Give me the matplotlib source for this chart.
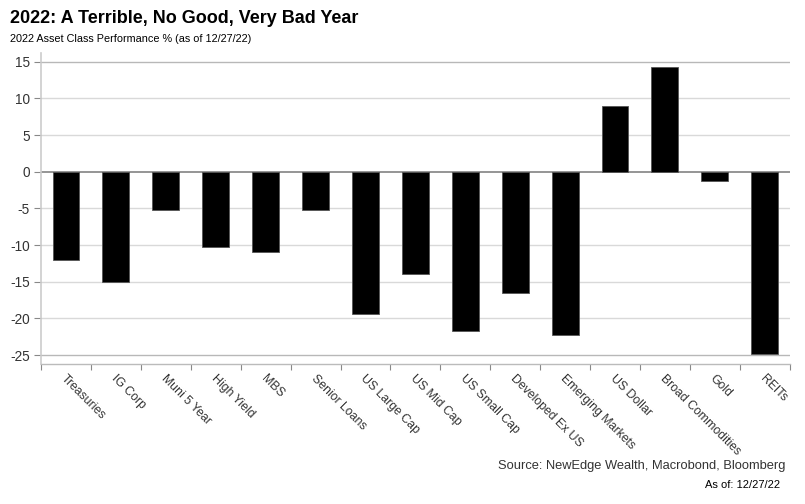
import matplotlib.pyplot as plt
import numpy as np

plt.rcParams['font.family'] = ['Liberation Sans', 'DejaVu Sans']

categories = ['Treasuries', 'IG Corp', 'Muni 5 Year', 'High Yield', 'MBS', 'Senior Loans',
              'US Large Cap', 'US Mid Cap', 'US Small Cap', 'Developed Ex US',
              'Emerging Markets', 'US Dollar', 'Broad Commodities', 'Gold', 'REITs']
performance = [-12.0, -15.1, -5.2, -10.2, -10.9, -5.2, -19.4, -14.0, -21.7, -16.6,
               -22.2, 8.9, 14.3, -1.2, -24.8]
yticks = [15, 10, 5, 0, -5, -10, -15, -20, -25]

fig = plt.figure(figsize=(8.05, 5.04), dpi=100)
ax = fig.add_axes([0.051, 0.278, 0.930, 0.617])

x = np.arange(len(categories))
ax.bar(x, performance, width=0.54, color='black', edgecolor='#555555', linewidth=0.6, zorder=3)

ax.set_xlim(-0.5, len(categories) - 0.5)
ax.set_ylim(-26.2, 16.2)

# gridlines
for t in yticks:
    if t == 0:
        c, lw = '#8c8c8c', 1.3
    elif t in (15, -25):
        c, lw = '#b8b8b8', 1.0
    else:
        c, lw = '#d9d9d9', 1.0
    ax.axhline(t, color=c, linewidth=lw, zorder=1)

ax.set_yticks(yticks)
ax.set_yticklabels([str(t) for t in yticks], fontsize=9.8, color='#333333')
ax.tick_params(axis='y', length=5, color='#888888', pad=3)

ax.set_xticks(np.arange(len(categories) + 1) - 0.5)
ax.set_xticklabels([])
ax.tick_params(axis='x', length=4, color='#888888')

for xi, lab in zip(x, categories):
    ax.annotate(lab, xy=(xi, 0), xycoords=('data', 'axes fraction'),
                xytext=(1, -6), textcoords='offset points',
                rotation=-45, rotation_mode='anchor', ha='left', va='top',
                fontsize=8.8, color='#333333')

for s in ['top', 'right']:
    ax.spines[s].set_visible(False)
ax.spines['left'].set_color('#cccccc')
ax.spines['left'].set_linewidth(1.2)
ax.spines['bottom'].set_color('#bbbbbb')
ax.spines['bottom'].set_linewidth(1.0)

fig.text(0.012, 0.963, '2022: A Terrible, No Good, Very Bad Year', fontsize=13,
         fontweight='bold', color='black', va='center')
fig.text(0.012, 0.923, '2022 Asset Class Performance % (as of 12/27/22)', fontsize=7.8,
         color='black', va='center')
fig.text(0.976, 0.075, 'Source: NewEdge Wealth, Macrobond, Bloomberg', fontsize=9.3,
         color='#333333', ha='right', va='center')
fig.text(0.969, 0.037, 'As of: 12/27/22', fontsize=8, color='black', ha='right', va='center')

fig.savefig('out.png', dpi=100, facecolor='white')
